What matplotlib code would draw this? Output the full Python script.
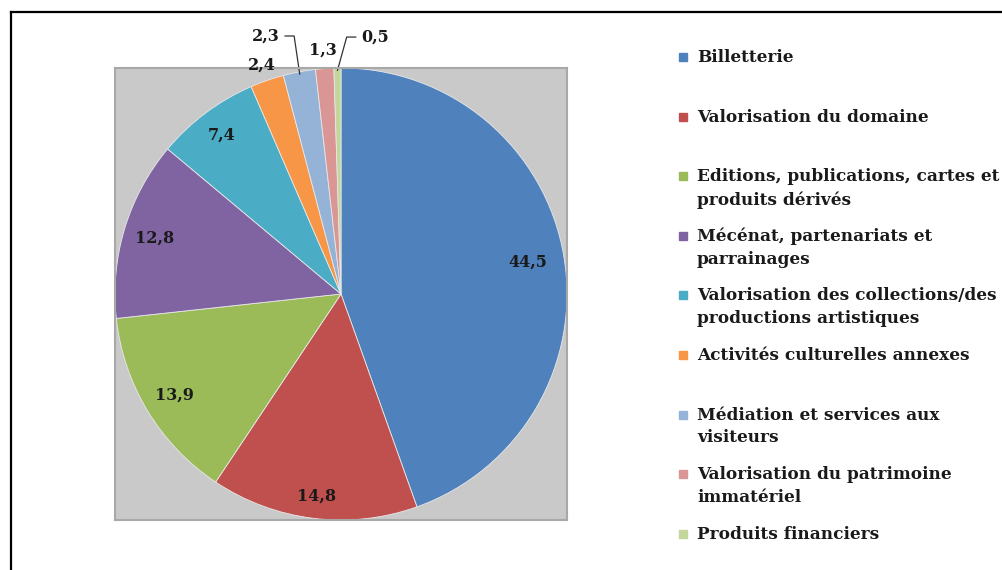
import numpy as np
import matplotlib.pyplot as plt
from matplotlib.patches import Rectangle
from matplotlib.lines import Line2D

# data
categories = ['Billetterie', 'Valorisation du domaine',
              'Editions, publications, cartes et\nproduits dérivés',
              'Mécénat, partenariats et\nparrainages',
              'Valorisation des collections/des\nproductions artistiques',
              'Activités culturelles annexes',
              'Médiation et services aux\nvisiteurs',
              'Valorisation du patrimoine\nimmatériel',
              'Produits financiers']
values = [44.5, 14.8, 13.9, 12.8, 7.4, 2.4, 2.3, 1.3, 0.5]
value_labels = ['44,5', '14,8', '13,9', '12,8', '7,4', '2,4', '2,3', '1,3', '0,5']
colors = ['#4F81BD', '#C0504D', '#9BBB59', '#8064A2', '#4BACC6',
          '#F79646', '#95B3D7', '#D99694', '#C3D69B']

# label placement (radius factor, extra offset) - small slices sit outside
label_r = [0.84, 0.90, 0.86, 0.86, 0.88, 1.07, 1.07, 1.08, 1.07]
label_off = [(0, 0), (0, 0), (0, 0), (0, 0), (0, 0), (0, 0),
             (-0.135, 0.09), (0, 0), (0.167, 0.067)]
leader = [False] * 6 + [True, False, True]

W, H = 1003, 570
fig = plt.figure(figsize=(W / 100, H / 100), dpi=100)
font = 'DejaVu Serif'

ax = fig.add_axes([115 / W, (H - 520) / H, 452 / W, 452 / H])
wedges, _ = ax.pie(values, colors=colors, startangle=90, counterclock=False,
                   wedgeprops=dict(edgecolor='#E8E8E8', linewidth=0.6))
ax.set_frame_on(True)
ax.set_facecolor('#C9C9C9')
for s in ax.spines.values():
    s.set_color('#A8A8A8')
    s.set_linewidth(1.5)
ax.set_xlim(-1.0, 1.0)
ax.set_ylim(-1.0, 1.0)
ax.set_aspect('equal', adjustable='box')

for w, txt, r, off, ld in zip(wedges, value_labels, label_r, label_off, leader):
    ang = np.deg2rad((w.theta1 + w.theta2) / 2)
    bx, by = r * np.cos(ang), r * np.sin(ang)
    x, y = bx + off[0], by + off[1]
    ax.text(x, y, txt, ha='center', va='center', fontsize=11.5,
            fontweight='bold', family=font, color='#1A1A1A', clip_on=False)
    if ld:
        side = 1 if off[0] < 0 else -1
        x0 = x + side * 0.085
        x1 = x0 + side * 0.04
        ex, ey = np.cos(ang) * 0.99, np.sin(ang) * 0.99
        ax.plot([x0, x1, ex], [y, y, ey], color='#333333', lw=0.9, clip_on=False)

# legend drawn by hand
for i, (cat, c) in enumerate(zip(categories, colors)):
    base = 64 + i * 59.6
    fig.add_artist(Rectangle((679 / W, 1 - (base - 3) / H), 8 / W, 8 / H,
                             transform=fig.transFigure, color=c))
    fig.text(697 / W, 1 - (base - 15) / H, cat, ha='left', va='top',
             fontsize=12.2, fontweight='bold', family=font, color='#1A1A1A',
             linespacing=1.45)

# outer frame (left and top edges visible)
fig.add_artist(Line2D([11 / W, 11 / W], [0, 1 - 12 / H], color='black', lw=1.6,
                      transform=fig.transFigure))
fig.add_artist(Line2D([11 / W, 1], [1 - 12 / H, 1 - 12 / H], color='black', lw=1.6,
                      transform=fig.transFigure))

fig.savefig('out.png', dpi=100)
